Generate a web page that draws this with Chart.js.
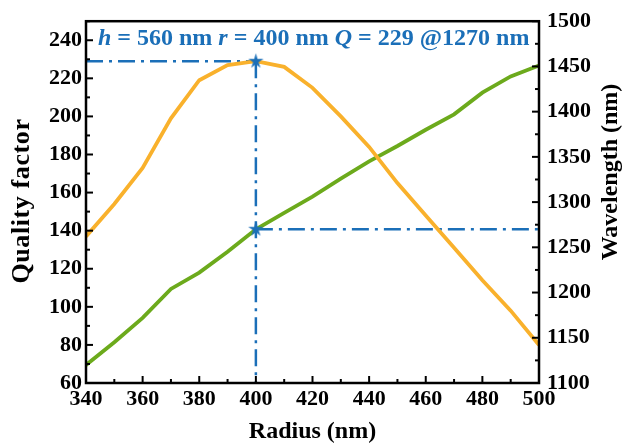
<!DOCTYPE html>
<html>
<head>
<meta charset="utf-8">
<script src="https://cdn.jsdelivr.net/npm/chart.js@4"></script>
<style>
  html, body { margin: 0; padding: 0; background: #fff; }
  #wrap { width: 624px; height: 447px; }
</style>
</head>
<body>
<div id="wrap"><canvas id="chart"></canvas></div>
<script>
// --- DATA ---
const radius = [340, 350, 360, 370, 380, 390, 400, 410, 420, 430, 440, 450, 460, 470, 480, 490, 500];
const qFactor = [137, 154, 173, 199, 219, 227, 229, 226, 215, 200, 184, 165, 148, 131, 114, 98, 80];
const wavelength = [1120, 1145, 1172, 1204, 1222, 1245, 1270, 1288, 1306, 1326, 1345, 1362, 1380, 1397, 1421, 1439, 1451];

const radiusTicks = [340, 360, 380, 400, 420, 440, 460, 480, 500];
const qTicks = [60, 80, 100, 120, 140, 160, 180, 200, 220, 240];
const waveTicks = [1100, 1150, 1200, 1250, 1300, 1350, 1400, 1450, 1500];

const peakR = 400, peakQ = 229, peakWave = 1270;

// --- STYLE ---
const ORANGE = '#F9B12C';
const GREEN = '#6CAA1C';
const BLUE = '#1B6FB8';
const SERIF = '"Liberation Serif", "Times New Roman", serif';
const DASHDOT = [17, 6, 3, 6];

// filled 5 point star used as marker
function makeStar(size, color) {
    const c = document.createElement('canvas');
    c.width = size; c.height = size;
    const g = c.getContext('2d');
    const cx = size / 2, cy = size / 2, ro = size / 2 - 0.5, ri = ro * 0.36;
    g.beginPath();
    for (let i = 0; i < 10; i++) {
        const r = i % 2 ? ri : ro;
        const a = -Math.PI / 2 + i * Math.PI / 5;
        g.lineTo(cx + r * Math.cos(a), cy + r * Math.sin(a));
    }
    g.closePath();
    g.fillStyle = color;
    g.fill();
    return c;
}
const star = makeStar(17, BLUE);

const pts = (xs, ys) => xs.map((x, i) => ({ x: x, y: ys[i] }));

// inward ticks, frame, side titles and annotation
const decor = {
    id: 'decor',
    afterDatasetsDraw(chart) {
        const ctx = chart.ctx, a = chart.chartArea;
        const sx = chart.scales.x, sq = chart.scales.yQ, sw = chart.scales.yW;
        ctx.save();
        ctx.strokeStyle = '#000';
        ctx.lineWidth = 2;
        for (let v = 340; v <= 500; v += 10) {
            const p = sx.getPixelForValue(v), len = v % 20 === 0 ? 7 : 4;
            ctx.beginPath(); ctx.moveTo(p, a.bottom); ctx.lineTo(p, a.bottom - len); ctx.stroke();
        }
        for (let v = 60; v <= 250; v += 10) {
            const p = sq.getPixelForValue(v), len = v % 20 === 0 ? 7 : 4;
            ctx.beginPath(); ctx.moveTo(a.left, p); ctx.lineTo(a.left + len, p); ctx.stroke();
        }
        for (let v = 1100; v <= 1500; v += 25) {
            const p = sw.getPixelForValue(v), len = v % 50 === 0 ? 7 : 4;
            ctx.beginPath(); ctx.moveTo(a.right, p); ctx.lineTo(a.right - len, p); ctx.stroke();
        }
        ctx.lineWidth = 2.5;
        ctx.strokeRect(a.left, a.top, a.right - a.left, a.bottom - a.top);

        // side titles, both reading bottom to top
        ctx.fillStyle = '#000';
        ctx.textAlign = 'center';
        ctx.textBaseline = 'middle';
        ctx.save();
        ctx.font = 'bold 24px ' + SERIF;
        ctx.translate(611, 172);
        ctx.rotate(-Math.PI / 2);
        ctx.fillText('Wavelength (nm)', 0, 0);
        ctx.restore();
        ctx.save();
        ctx.font = 'bold 26px ' + SERIF;
        ctx.translate(22, 201);
        ctx.rotate(-Math.PI / 2);
        ctx.letterSpacing = '0.6px';
        ctx.fillText('Quality factor', 0, 0);
        ctx.restore();
        ctx.restore();

        // annotation
        ctx.save();
        ctx.fillStyle = BLUE;
        ctx.textBaseline = 'alphabetic';
        ctx.textAlign = 'left';
        const parts = [['h', 1], [' = 560 nm ', 0], ['r', 1], [' = 400 nm ', 0], ['Q', 1], [' = 229 @1270 nm', 0]];
        let x = 98;
        parts.forEach(p => {
            ctx.font = (p[1] ? 'italic ' : '') + 'bold 24px ' + SERIF;
            ctx.fillText(p[0], x, 45);
            x += ctx.measureText(p[0]).width;
        });
        ctx.restore();
    }
};

const tickFont = { family: SERIF, size: 22, weight: 'bold' };
const titleFont = { family: SERIF, size: 24, weight: 'bold' };
const plain = v => String(v);

new Chart(document.getElementById('chart'), {
    type: 'line',
    data: {
        datasets: [
            { data: [{ x: peakR, y: peakQ }], yAxisID: 'yQ', showLine: false, pointStyle: star, pointRadius: 8, order: 0 },
            { data: [{ x: peakR, y: peakWave }], yAxisID: 'yW', showLine: false, pointStyle: star, pointRadius: 8, order: 0 },
            { data: pts(radius, qFactor), yAxisID: 'yQ', borderColor: ORANGE, borderWidth: 3.8, pointRadius: 0, order: 1 },
            { data: pts(radius, wavelength), yAxisID: 'yW', borderColor: GREEN, borderWidth: 3.8, pointRadius: 0, order: 1 },
            { data: [{ x: radius[0], y: peakQ }, { x: peakR, y: peakQ }], yAxisID: 'yQ', borderColor: BLUE, borderWidth: 2.5, borderDash: DASHDOT, pointRadius: 0, order: 2 },
            { data: [{ x: peakR, y: peakQ }, { x: peakR, y: qTicks[0] }], yAxisID: 'yQ', borderColor: BLUE, borderWidth: 2.5, borderDash: DASHDOT, pointRadius: 0, order: 2 },
            { data: [{ x: peakR, y: peakWave }, { x: radius[radius.length - 1], y: peakWave }], yAxisID: 'yW', borderColor: BLUE, borderWidth: 2.5, borderDash: DASHDOT, pointRadius: 0, order: 2 }
        ]
    },
    options: {
        responsive: true,
        maintainAspectRatio: false,
        animation: false,
        layout: { padding: { top: 17 } },
        plugins: { legend: { display: false }, tooltip: { enabled: false } },
        scales: {
            x: {
                type: 'linear', position: 'bottom', min: 340, max: 500,
                grid: { display: false, drawTicks: false }, border: { display: false },
                afterBuildTicks: s => { s.ticks = radiusTicks.map(v => ({ value: v })); },
                afterFit: s => { s.height = 64; },
                ticks: { font: tickFont, color: '#000', padding: 3, maxRotation: 0, autoSkip: false, callback: plain },
                title: { display: true, text: 'Radius (nm)', font: titleFont, color: '#000', padding: { top: 0, bottom: 1 } }
            },
            yQ: {
                type: 'linear', position: 'left', min: 60, max: 250,
                grid: { display: false, drawTicks: false }, border: { display: false },
                afterBuildTicks: s => { s.ticks = qTicks.map(v => ({ value: v })); },
                afterFit: s => { s.width = 86; },
                ticks: { font: tickFont, color: '#000', padding: 4, autoSkip: false, callback: plain }
            },
            yW: {
                type: 'linear', position: 'right', min: 1100, max: 1500,
                grid: { display: false, drawTicks: false }, border: { display: false },
                afterBuildTicks: s => { s.ticks = waveTicks.map(v => ({ value: v })); },
                afterFit: s => { s.width = 85; },
                ticks: { font: tickFont, color: '#000', padding: 8, autoSkip: false, callback: plain }
            }
        }
    },
    plugins: [decor]
});
</script>
</body>
</html>
